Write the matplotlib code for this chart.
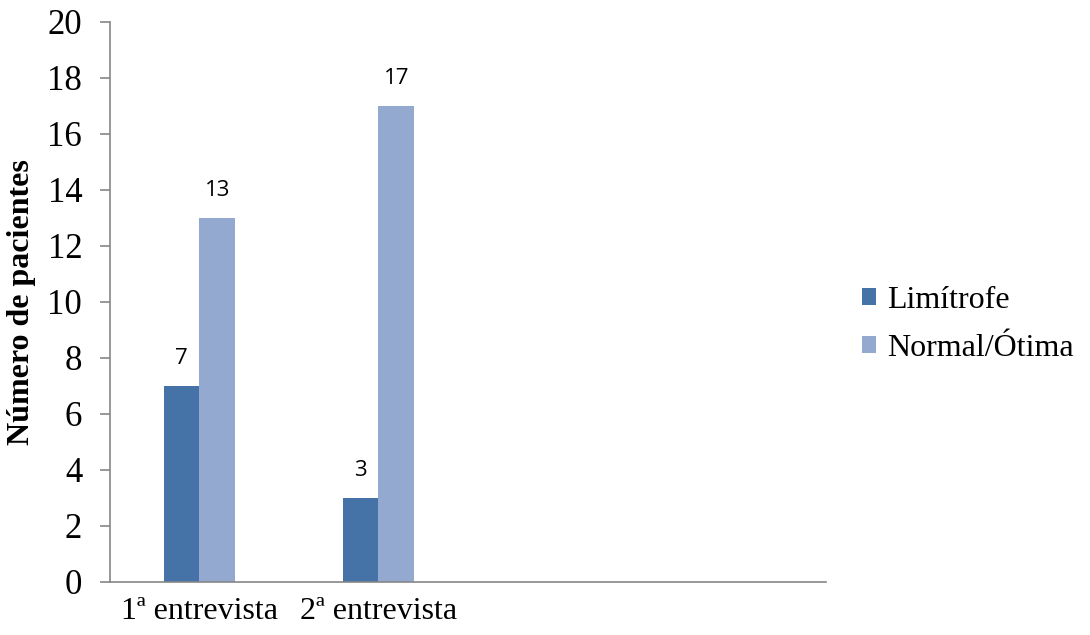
import matplotlib
matplotlib.use('Agg')
import matplotlib.pyplot as plt
import numpy as np

# data (4 category slots, last two empty)
categories = ['1ª entrevista', '2ª entrevista', '', '']
limitrofe = [7, 3]
normal_otima = [13, 17]
series_names = ['Limítrofe', 'Normal/Ótima']
yticks = [0, 2, 4, 6, 8, 10, 12, 14, 16, 18, 20]

dark = '#4572A7'
light = '#93A9CF'
gray = '#868686'

plt.rcParams['font.family'] = ['Liberation Serif', 'DejaVu Serif']

fig = plt.figure(figsize=(10.9, 6.35), dpi=100)
ax = fig.add_axes([0.1009, 0.0835, 0.6569, 0.8819])

w = 0.2
x = np.arange(len(limitrofe))
b1 = ax.bar(x - w / 2, limitrofe, w, color=dark, label=series_names[0])
b2 = ax.bar(x + w / 2, normal_otima, w, color=light, label=series_names[1])

for bars in (b1, b2):
    for rect in bars:
        ax.annotate(f'{int(rect.get_height())}',
                    (rect.get_x() + rect.get_width() / 2, rect.get_height()),
                    xytext=(0, 12), textcoords='offset points',
                    ha='center', va='bottom', fontsize=16,
                    family=['Open Sans', 'DejaVu Sans'])

ax.set_xlim(-0.5, len(categories) - 0.5)
ax.set_ylim(0, 20)
ax.set_yticks(yticks)
ax.set_xticks(range(len(categories)))
ax.set_xticklabels(categories)
ax.tick_params(axis='y', labelsize=25, length=7, width=1.2, color=gray, pad=13)
ax.tick_params(axis='x', labelsize=23, length=0, pad=11)

for s in ['top', 'right']:
    ax.spines[s].set_visible(False)
for s in ['left', 'bottom']:
    ax.spines[s].set_color(gray)
    ax.spines[s].set_linewidth(1.2)

ax.set_ylabel('Número de pacientes', fontsize=23, fontweight='bold', labelpad=8)

leg = ax.legend(loc='center left', bbox_to_anchor=(1.01, 0.46), frameon=False,
                fontsize=23, handlelength=0.45, handleheight=0.45,
                handletextpad=0.35, labelspacing=0.6)

fig.savefig('out.png', dpi=100)
